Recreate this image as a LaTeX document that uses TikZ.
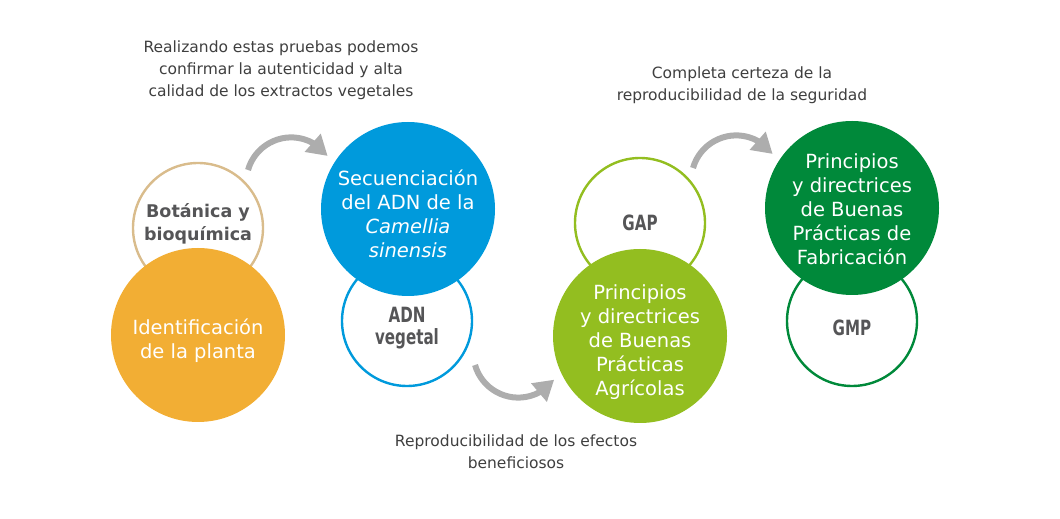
\documentclass[tikz,border=0pt]{standalone}
\usepackage{fontspec}
\setmainfont{DejaVu Sans}
\newfontfamily\condfont{DejaVu Sans}[FakeStretch=0.72]
\usepackage{tikz}
\usetikzlibrary{arrows.meta,bending,positioning}
\definecolor{tanline}{HTML}{D9BC8C}
\definecolor{orangefill}{HTML}{F2AE34}
\definecolor{bluefill}{HTML}{009ADC}
\definecolor{limefill}{HTML}{93BE20}
\definecolor{greenfill}{HTML}{00893A}
\definecolor{arrowgray}{HTML}{ADADAD}
\definecolor{labelgray}{HTML}{555557}
\definecolor{notegray}{HTML}{3F3F3F}
\tikzset
{
    ring/.style     = {circle, draw, line width=2.4pt, fill=white, minimum size=130pt, inner sep=0pt},
    disc/.style     = {circle, minimum size=174pt, inner sep=0pt},
    ringtext/.style = {align=center, inner sep=0pt, text=labelgray, font=\condfont\bfseries\fontsize{21}{21.5}\selectfont},
    disctext/.style = {align=center, inner sep=0pt, text=white, font=\fontsize{19.5}{24}\selectfont},
    note/.style     = {align=center, text=notegray, font=\fontsize{15.5}{22}\selectfont},
    turn/.style     = {line width=6pt, draw=arrowgray, -{Triangle[length=20pt, width=23pt, flex]}}
}
\begin{document}
\begin{tikzpicture}[x=1pt, y=1pt]
    \useasboundingbox (0,0) rectangle (1060,519);
    % outlined circles
    \node [ring, draw=tanline] (bot) at (198,291) {};
    \node [ring, draw=bluefill] (adn) at (407,198) {};
    \node [ring, draw=limefill] (gap) at (640,296) {};
    \node [ring, draw=greenfill] (gmp) at (852,198) {};
    \node [ringtext, font=\bfseries\fontsize{17.5}{23}\selectfont] (bottext) at ([yshift=4pt]bot.center) {Botánica y\\bioquímica};
    \node [ringtext] (adntext) at ([yshift=-7pt]adn.center) {ADN\\vegetal};
    \node [ringtext] (gaptext) at ([yshift=0.5pt]gap.center) {GAP};
    \node [ringtext] (gmptext) at ([yshift=-6.5pt]gmp.center) {GMP};
    % filled circles
    \node [disc, fill=orangefill] (ident) at (198,184) {};
    \node [disc, fill=bluefill] (secu) at (408,310) {};
    \node [disc, fill=limefill] (agri) at (640,183) {};
    \node [disc, fill=greenfill] (fab) at (852,311) {};
    \node [disctext] (identtext) at ([yshift=-5.5pt]ident.center) {Identificación\\de la planta};
    \node [disctext] (secutext) at ([yshift=-5pt]secu.center) {Secuenciación\\del ADN de la\\\textit{Camellia}\\\textit{sinensis}};
    \node [disctext] (agritext) at ([yshift=-6pt]agri.center) {Principios\\y directrices\\de Buenas\\Prácticas\\Agrícolas};
    \node [disctext] (fabtext) at ([yshift=-1pt]fab.center) {Principios\\y directrices\\de Buenas\\Prácticas de\\Fabricación};
    % captions
    \node [note] (pruebas) at (281,449) {Realizando estas pruebas podemos\\confirmar la autenticidad y alta\\calidad de los extractos vegetales};
    \node [note] (certeza) at (742,434) {Completa certeza de la\\reproducibilidad de la seguridad};
    \node [note] (efectos) at (516,67) {Reproducibilidad de los efectos\\beneficiosos};
    % arrows
    \coordinate (turnA) at (248,349);
    \coordinate (turnB) at (475,154);
    \coordinate (turnC) at (693,351);
    \draw [turn] (turnA) arc [start angle=164, end angle=36, radius=45];
    \draw [turn] (turnB) arc [start angle=196, end angle=323, radius=45];
    \draw [turn] (turnC) arc [start angle=164, end angle=36, radius=45];
\end{tikzpicture}
\end{document}
